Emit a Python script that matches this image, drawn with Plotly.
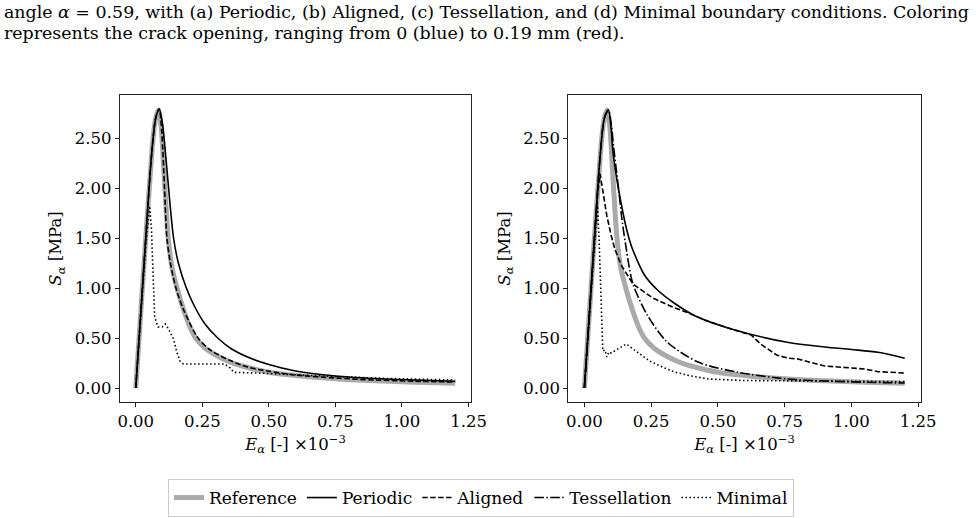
import plotly.graph_objects as go

# ---------------- data ----------------
ref_x = [0, 0.02, 0.04, 0.055, 0.065, 0.075, 0.085, 0.095, 0.105, 0.115, 0.122, 0.135,
         0.155, 0.18, 0.205, 0.225, 0.26, 0.3, 0.354, 0.4, 0.5, 0.6, 0.75, 0.9, 1.05, 1.2]
ref_y = [0, 0.8, 1.6, 2.15, 2.5, 2.7, 2.78, 2.62, 2.2, 1.75, 1.5, 1.22,
         1.0, 0.78, 0.6, 0.5, 0.4, 0.33, 0.26, 0.22, 0.157, 0.125, 0.092, 0.072, 0.058, 0.048]

# left panel
lp_x = [0, 0.02, 0.04, 0.06, 0.075, 0.088, 0.1, 0.115, 0.13, 0.142, 0.16, 0.19, 0.22,
        0.26, 0.308, 0.36, 0.42, 0.5, 0.6, 0.75, 0.9, 1.05, 1.2]
lp_y = [0, 0.8, 1.6, 2.35, 2.7, 2.79, 2.65, 2.25, 1.8, 1.5, 1.25, 1.0, 0.82,
        0.64, 0.5, 0.39, 0.31, 0.235, 0.17, 0.12, 0.095, 0.08, 0.067]
la_x = [0, 0.02, 0.04, 0.06, 0.075, 0.088, 0.098, 0.108, 0.117, 0.13, 0.151, 0.18,
        0.234, 0.28, 0.35, 0.42, 0.5, 0.6, 0.75, 0.9, 1.05, 1.2]
la_y = [0, 0.8, 1.6, 2.35, 2.7, 2.79, 2.55, 2.0, 1.5, 1.25, 1.0, 0.78,
        0.5, 0.38, 0.28, 0.21, 0.167, 0.13, 0.1, 0.08, 0.068, 0.06]
lm_x = [0, 0.02, 0.04, 0.052, 0.059, 0.071, 0.084, 0.099, 0.111, 0.123, 0.142, 0.154,
        0.166, 0.179, 0.333, 0.351, 0.369, 0.48, 0.6, 0.75, 0.95, 1.2]
lm_y = [0, 0.75, 1.5, 1.82, 1.59, 0.71, 0.61, 0.61, 0.64, 0.59, 0.49, 0.36,
        0.27, 0.24, 0.24, 0.21, 0.157, 0.147, 0.13, 0.115, 0.095, 0.08]

# right panel
rp_x = [0, 0.02, 0.04, 0.06, 0.075, 0.09, 0.1, 0.106, 0.115, 0.127, 0.157, 0.176, 0.194,
        0.225, 0.274, 0.336, 0.416, 0.551, 0.76, 0.9, 1.0, 1.1, 1.2]
rp_y = [0, 0.8, 1.6, 2.35, 2.7, 2.78, 2.6, 2.39, 2.2, 2.0, 1.6, 1.42, 1.3,
        1.13, 0.98, 0.85, 0.72, 0.59, 0.457, 0.41, 0.385, 0.357, 0.297]
ra_x = [0, 0.02, 0.04, 0.05, 0.059, 0.068, 0.076, 0.084, 0.1, 0.114, 0.139, 0.182, 0.256,
        0.33, 0.39, 0.45, 0.55, 0.625, 0.66, 0.72, 0.76, 0.8, 0.9, 1.0, 1.05, 1.1, 1.2]
ra_y = [0, 0.8, 1.6, 1.95, 2.14, 2.0, 1.85, 1.725, 1.53, 1.39, 1.224, 1.04, 0.9,
        0.81, 0.75, 0.68, 0.59, 0.53, 0.44, 0.33, 0.3, 0.29, 0.22, 0.2, 0.19, 0.163, 0.15]
rt_x = [0, 0.02, 0.04, 0.06, 0.075, 0.09, 0.1, 0.11, 0.118, 0.13, 0.139, 0.157, 0.182,
        0.237, 0.311, 0.428, 0.576, 0.76, 0.9, 1.05, 1.2]
rt_y = [0, 0.8, 1.6, 2.35, 2.7, 2.78, 2.65, 2.4, 2.22, 1.95, 1.725, 1.39, 1.04,
        0.724, 0.457, 0.257, 0.157, 0.09, 0.07, 0.058, 0.05]
rm_x = [0, 0.02, 0.04, 0.049, 0.055, 0.062, 0.069, 0.077, 0.084, 0.092, 0.1, 0.157,
        0.2, 0.244, 0.3, 0.342, 0.4, 0.465, 0.6, 0.75, 0.9, 1.05, 1.2]
rm_y = [0, 0.75, 1.5, 1.82, 1.5, 0.9, 0.37, 0.38, 0.31, 0.36, 0.35, 0.44,
        0.36, 0.27, 0.2, 0.157, 0.12, 0.09, 0.075, 0.07, 0.068, 0.066, 0.065]

x_ticks = [0, 0.25, 0.5, 0.75, 1.0, 1.25]
y_ticks = [0, 0.5, 1.0, 1.5, 2.0, 2.5]

caption_1 = "angle <i>α</i> = 0.59, with (a) Periodic, (b) Aligned, (c) Tessellation, and (d) Minimal boundary conditions. Coloring"
caption_2 = "represents the crack opening, ranging from 0 (blue) to 0.19 mm (red)."

# ---------------- styles ----------------
FONT = "DejaVu Serif"
FS = 16.5
CAP_FS = 17.4
LEG_FS = 17
styles = {
    "Reference": dict(color="#aaaaaa", width=5, dash="solid"),
    "Periodic": dict(color="black", width=1.6, dash="solid"),
    "Aligned": dict(color="black", width=1.6, dash="5.5px,2.4px"),
    "Tessellation": dict(color="black", width=1.6, dash="9.6px,2.4px,1.5px,2.4px"),
    "Minimal": dict(color="black", width=1.6, dash="1.5px,2.5px"),
}
shapes = {"Reference": "spline", "Periodic": "spline", "Aligned": "linear",
          "Tessellation": "spline", "Minimal": "linear"}
rank = {"Reference": 1, "Periodic": 2, "Aligned": 3, "Tessellation": 4, "Minimal": 5}

fig = go.Figure()

def add(name, xs, ys, xa, ya, show, shape=None):
    ln = dict(styles[name])
    ln["shape"] = shape or shapes[name]
    if ln["shape"] == "spline":
        ln["smoothing"] = 0.8
    fig.add_trace(go.Scatter(x=xs, y=ys, mode="lines", name=name, line=ln,
                             xaxis=xa, yaxis=ya, showlegend=show, legendrank=rank[name]))

add("Reference", ref_x, ref_y, "x", "y", True)
add("Periodic", lp_x, lp_y, "x", "y", True)
add("Aligned", la_x, la_y, "x", "y", True, "spline")
add("Minimal", lm_x, lm_y, "x", "y", True)

add("Reference", ref_x, ref_y, "x2", "y2", False)
add("Periodic", rp_x, rp_y, "x2", "y2", False)
add("Aligned", ra_x, ra_y, "x2", "y2", False)
add("Tessellation", rt_x, rt_y, "x2", "y2", True)
add("Minimal", rm_x, rm_y, "x2", "y2", False)

W, H = 976, 518
ytop = 1 - 95 / H
ybot = 1 - 402 / H

axis_common = dict(showgrid=False, zeroline=False, showline=True, linecolor="#222222",
                   linewidth=1, mirror=True, ticks="outside", ticklen=4, tickwidth=1,
                   tickcolor="#222222", tickfont=dict(family=FONT, size=FS, color="black"))

xtitle = "<i>E</i><sub><i>α</i></sub> [-] ×10<sup>−3</sup>"
ytitle = "<i>S</i><sub><i>α</i></sub> [MPa]"

fig.update_layout(
    width=W, height=H, margin=dict(l=0, r=0, t=0, b=0),
    paper_bgcolor="white", plot_bgcolor="white",
    font=dict(family=FONT, size=FS, color="black"),
    xaxis=dict(domain=[120 / W, 478 / W], range=[-0.06, 1.26], tickvals=x_ticks,
               tickformat=".2f", anchor="y",
               title=dict(text=xtitle, font=dict(family=FONT, size=FS), standoff=8),
               **axis_common),
    yaxis=dict(domain=[ybot, ytop], range=[-0.14, 2.93], tickvals=y_ticks,
               tickformat=".2f", anchor="x",
               title=dict(text=ytitle, font=dict(family=FONT, size=FS), standoff=8),
               **axis_common),
    xaxis2=dict(domain=[577 / W, 936 / W], range=[-0.06, 1.26], tickvals=x_ticks,
                tickformat=".2f", anchor="y2",
                title=dict(text=xtitle, font=dict(family=FONT, size=FS), standoff=8),
                **axis_common),
    yaxis2=dict(domain=[ybot, ytop], range=[-0.14, 2.93], tickvals=y_ticks,
                tickformat=".2f", anchor="x2",
                title=dict(text=ytitle, font=dict(family=FONT, size=FS), standoff=8),
                **axis_common),
    legend=dict(orientation="h", x=0.5, xanchor="center", y=1 - 479 / H, yanchor="top",
                bordercolor="#cccccc", borderwidth=1, bgcolor="white",
                font=dict(family=FONT, size=LEG_FS), itemwidth=30, tracegroupgap=0),
    annotations=[
        dict(text=caption_1, xref="paper", yref="paper", x=0, y=1 - 12 / H,
             xanchor="left", yanchor="middle", showarrow=False,
             font=dict(family=FONT, size=CAP_FS)),
        dict(text=caption_2, xref="paper", yref="paper", x=0, y=1 - 33 / H,
             xanchor="left", yanchor="middle", showarrow=False,
             font=dict(family=FONT, size=CAP_FS)),
    ],
)

fig.write_html("out.html")
